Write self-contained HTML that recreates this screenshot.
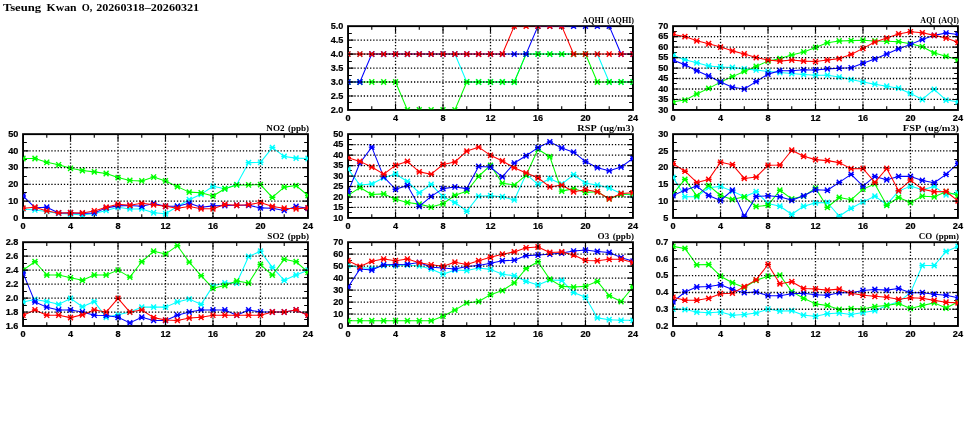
<!DOCTYPE html>
<html><head><meta charset="utf-8"><title>Tseung Kwan O</title>
<style>
html,body{margin:0;padding:0;background:#fff;}
svg{display:block;will-change:transform;}
.l{font-family:"Liberation Sans",sans-serif;font-weight:bold;font-size:8.8px;fill:#000;stroke:#000;stroke-width:0.2px;}
.t{font-family:"Liberation Serif",serif;font-weight:bold;font-size:9.0px;fill:#000;letter-spacing:0px;word-spacing:1.2px;}
.m{font-family:"Liberation Serif",serif;font-weight:bold;font-size:11.4px;fill:#000;letter-spacing:0px;word-spacing:1.5px;}
</style></head><body>
<svg width="975" height="447" viewBox="0 0 975 447">
<rect width="975" height="447" fill="#fff"/>
<defs><g id="k"><path d="M-2.4 -2.7L2.4 2.7M-2.4 2.7L2.4 -2.7M-3 0L3 0" fill="none" stroke-width="1.45" stroke-linecap="butt"/></g></defs>
<text class="m" y="10.8"><tspan x="2.9" textLength="38.3" lengthAdjust="spacingAndGlyphs">Tseung</tspan> <tspan x="46.6" textLength="29.9" lengthAdjust="spacingAndGlyphs">Kwan</tspan> <tspan x="81.8" textLength="10.6" lengthAdjust="spacingAndGlyphs">O,</tspan> <tspan x="96.2" textLength="103.0" lengthAdjust="spacingAndGlyphs">20260318–20260321</tspan></text>
<g>
<clipPath id="c1"><rect x="23.05" y="134.8" width="284.9" height="82.5"/></clipPath>
<rect x="23.05" y="134.15" width="284.9" height="83.8" fill="none" stroke="#000" stroke-width="1.9"/>
<path d="M23.05 209.5h3.8M307.95 209.5h-3.8M23.05 192.5h3.8M307.95 192.5h-3.8M23.05 176.5h3.8M307.95 176.5h-3.8M23.05 159.5h3.8M307.95 159.5h-3.8M23.05 142.5h3.8M307.95 142.5h-3.8" fill="none" stroke="#000" stroke-width="1.15"/>
<path d="M46.79 134.15v3.7M46.79 217.95v-3.7M94.27 134.15v3.7M94.27 217.95v-3.7M141.76 134.15v3.7M141.76 217.95v-3.7M189.24 134.15v3.7M189.24 217.95v-3.7M236.72 134.15v3.7M236.72 217.95v-3.7M284.21 134.15v3.7M284.21 217.95v-3.7" fill="none" stroke="#000" stroke-width="1.1"/>
<g clip-path="url(#c1)">
<polyline points="23.05,208.9 34.92,209.91 46.79,211.41 58.66,213.42 70.53,214.1 82.4,214.93 94.27,213.42 106.15,210.41 118.02,207.22 129.89,208.9 141.76,208.9 153.63,212.75 165.5,213.76 177.37,206.55 189.24,199.68 201.11,194.32 212.98,186.27 224.85,188.79 236.72,184.6 248.6,162.64 260.47,162.31 272.34,147.56 284.21,156.44 296.08,158.12 307.95,158.45" fill="none" stroke="#00ffff" stroke-width="1.05" stroke-linejoin="round"/>
<g stroke="#00ffff"><use href="#k" x="23.05" y="208.9"/><use href="#k" x="34.92" y="209.91"/><use href="#k" x="46.79" y="211.41"/><use href="#k" x="58.66" y="213.42"/><use href="#k" x="70.53" y="214.1"/><use href="#k" x="82.4" y="214.93"/><use href="#k" x="94.27" y="213.42"/><use href="#k" x="106.15" y="210.41"/><use href="#k" x="118.02" y="207.22"/><use href="#k" x="129.89" y="208.9"/><use href="#k" x="141.76" y="208.9"/><use href="#k" x="153.63" y="212.75"/><use href="#k" x="165.5" y="213.76"/><use href="#k" x="177.37" y="206.55"/><use href="#k" x="189.24" y="199.68"/><use href="#k" x="201.11" y="194.32"/><use href="#k" x="212.98" y="186.27"/><use href="#k" x="224.85" y="188.79"/><use href="#k" x="236.72" y="184.6"/><use href="#k" x="248.6" y="162.64"/><use href="#k" x="260.47" y="162.31"/><use href="#k" x="272.34" y="147.56"/><use href="#k" x="284.21" y="156.44"/><use href="#k" x="296.08" y="158.12"/><use href="#k" x="307.95" y="158.45"/></g>
<polyline points="23.05,158.45 34.92,158.45 46.79,162.31 58.66,164.82 70.53,168.34 82.4,170.52 94.27,171.86 106.15,173.54 118.02,177.56 129.89,180.41 141.76,180.91 153.63,177.06 165.5,180.91 177.37,186.61 189.24,192.14 201.11,192.81 212.98,195.99 224.85,188.79 236.72,184.93 248.6,184.93 260.47,184.6 272.34,197.34 284.21,187.11 296.08,185.6 307.95,195.49" fill="none" stroke="#00ff00" stroke-width="1.05" stroke-linejoin="round"/>
<g stroke="#00ff00"><use href="#k" x="23.05" y="158.45"/><use href="#k" x="34.92" y="158.45"/><use href="#k" x="46.79" y="162.31"/><use href="#k" x="58.66" y="164.82"/><use href="#k" x="70.53" y="168.34"/><use href="#k" x="82.4" y="170.52"/><use href="#k" x="94.27" y="171.86"/><use href="#k" x="106.15" y="173.54"/><use href="#k" x="118.02" y="177.56"/><use href="#k" x="129.89" y="180.41"/><use href="#k" x="141.76" y="180.91"/><use href="#k" x="153.63" y="177.06"/><use href="#k" x="165.5" y="180.91"/><use href="#k" x="177.37" y="186.61"/><use href="#k" x="189.24" y="192.14"/><use href="#k" x="201.11" y="192.81"/><use href="#k" x="212.98" y="195.99"/><use href="#k" x="224.85" y="188.79"/><use href="#k" x="236.72" y="184.93"/><use href="#k" x="248.6" y="184.93"/><use href="#k" x="260.47" y="184.6"/><use href="#k" x="272.34" y="197.34"/><use href="#k" x="284.21" y="187.11"/><use href="#k" x="296.08" y="185.6"/><use href="#k" x="307.95" y="195.49"/></g>
<polyline points="23.05,195.99 34.92,207.73 46.79,207.22 58.66,212.92 70.53,212.92 82.4,213.42 94.27,212.92 106.15,207.89 118.02,205.88 129.89,205.55 141.76,206.22 153.63,203.54 165.5,206.22 177.37,206.22 189.24,203.2 201.11,207.22 212.98,205.88 224.85,205.55 236.72,205.21 248.6,205.21 260.47,207.89 272.34,208.23 284.21,210.41 296.08,206.55 307.95,208.23" fill="none" stroke="#0000ff" stroke-width="1.05" stroke-linejoin="round"/>
<g stroke="#0000ff"><use href="#k" x="23.05" y="195.99"/><use href="#k" x="34.92" y="207.73"/><use href="#k" x="46.79" y="207.22"/><use href="#k" x="58.66" y="212.92"/><use href="#k" x="70.53" y="212.92"/><use href="#k" x="82.4" y="213.42"/><use href="#k" x="94.27" y="212.92"/><use href="#k" x="106.15" y="207.89"/><use href="#k" x="118.02" y="205.88"/><use href="#k" x="129.89" y="205.55"/><use href="#k" x="141.76" y="206.22"/><use href="#k" x="153.63" y="203.54"/><use href="#k" x="165.5" y="206.22"/><use href="#k" x="177.37" y="206.22"/><use href="#k" x="189.24" y="203.2"/><use href="#k" x="201.11" y="207.22"/><use href="#k" x="212.98" y="205.88"/><use href="#k" x="224.85" y="205.55"/><use href="#k" x="236.72" y="205.21"/><use href="#k" x="248.6" y="205.21"/><use href="#k" x="260.47" y="207.89"/><use href="#k" x="272.34" y="208.23"/><use href="#k" x="284.21" y="210.41"/><use href="#k" x="296.08" y="206.55"/><use href="#k" x="307.95" y="208.23"/></g>
<polyline points="23.05,208.23 34.92,207.22 46.79,210.91 58.66,212.92 70.53,212.75 82.4,212.92 94.27,210.91 106.15,207.22 118.02,204.21 129.89,205.21 141.76,203.2 153.63,204.71 165.5,206.22 177.37,208.23 189.24,206.55 201.11,208.73 212.98,208.73 224.85,204.54 236.72,205.21 248.6,204.71 260.47,202.53 272.34,206.55 284.21,208.23 296.08,208.73 307.95,207.89" fill="none" stroke="#ff0000" stroke-width="1.05" stroke-linejoin="round"/>
<g stroke="#ff0000"><use href="#k" x="23.05" y="208.23"/><use href="#k" x="34.92" y="207.22"/><use href="#k" x="46.79" y="210.91"/><use href="#k" x="58.66" y="212.92"/><use href="#k" x="70.53" y="212.75"/><use href="#k" x="82.4" y="212.92"/><use href="#k" x="94.27" y="210.91"/><use href="#k" x="106.15" y="207.22"/><use href="#k" x="118.02" y="204.21"/><use href="#k" x="129.89" y="205.21"/><use href="#k" x="141.76" y="203.2"/><use href="#k" x="153.63" y="204.71"/><use href="#k" x="165.5" y="206.22"/><use href="#k" x="177.37" y="208.23"/><use href="#k" x="189.24" y="206.55"/><use href="#k" x="201.11" y="208.73"/><use href="#k" x="212.98" y="208.73"/><use href="#k" x="224.85" y="204.54"/><use href="#k" x="236.72" y="205.21"/><use href="#k" x="248.6" y="204.71"/><use href="#k" x="260.47" y="202.53"/><use href="#k" x="272.34" y="206.55"/><use href="#k" x="284.21" y="208.23"/><use href="#k" x="296.08" y="208.73"/><use href="#k" x="307.95" y="207.89"/></g>
</g>
<path d="M23.05 201.19H307.95M23.05 184.43H307.95M23.05 167.67H307.95M23.05 150.91H307.95M70.53 134.15V217.95M118.02 134.15V217.95M165.5 134.15V217.95M212.98 134.15V217.95M260.47 134.15V217.95" fill="none" stroke="#000" stroke-width="1.3" stroke-dasharray="1.3 1.84"/>
<path d="M23.05 201.19h5.5M307.95 201.19h-5.5M23.05 184.43h5.5M307.95 184.43h-5.5M23.05 167.67h5.5M307.95 167.67h-5.5M23.05 150.91h5.5M307.95 150.91h-5.5" fill="none" stroke="#000" stroke-width="1.15"/>
<path d="M70.53 134.15v6.5M70.53 217.95v-6.5M118.02 134.15v6.5M118.02 217.95v-6.5M165.5 134.15v6.5M165.5 217.95v-6.5M212.98 134.15v6.5M212.98 217.95v-6.5M260.47 134.15v6.5M260.47 217.95v-6.5" fill="none" stroke="#000" stroke-width="1.1"/>
<text class="l" text-anchor="end" transform="translate(18.35 220.7) scale(1.04 1)">0</text><text class="l" text-anchor="end" transform="translate(18.35 203.94) scale(1.04 1)">10</text><text class="l" text-anchor="end" transform="translate(18.35 187.18) scale(1.04 1)">20</text><text class="l" text-anchor="end" transform="translate(18.35 170.42) scale(1.04 1)">30</text><text class="l" text-anchor="end" transform="translate(18.35 153.66) scale(1.04 1)">40</text><text class="l" text-anchor="end" transform="translate(18.35 136.9) scale(1.04 1)">50</text>
<text class="l" text-anchor="middle" transform="translate(23.05 229.3) scale(1.04 1)">0</text><text class="l" text-anchor="middle" transform="translate(70.53 229.3) scale(1.04 1)">4</text><text class="l" text-anchor="middle" transform="translate(118.02 229.3) scale(1.04 1)">8</text><text class="l" text-anchor="middle" transform="translate(165.5 229.3) scale(1.04 1)">12</text><text class="l" text-anchor="middle" transform="translate(212.98 229.3) scale(1.04 1)">16</text><text class="l" text-anchor="middle" transform="translate(260.47 229.3) scale(1.04 1)">20</text><text class="l" text-anchor="middle" transform="translate(307.95 229.3) scale(1.04 1)">24</text>
<text class="t" x="266.35" y="130.65" textLength="42.7" lengthAdjust="spacingAndGlyphs">NO2 (ppb)</text>
</g>
<g>
<clipPath id="c2"><rect x="23.05" y="242.85" width="284.9" height="82.5"/></clipPath>
<rect x="23.05" y="242.2" width="284.9" height="83.8" fill="none" stroke="#000" stroke-width="1.9"/>
<path d="M23.05 319.5h3.8M307.95 319.5h-3.8M23.05 305.5h3.8M307.95 305.5h-3.8M23.05 291.5h3.8M307.95 291.5h-3.8M23.05 277.5h3.8M307.95 277.5h-3.8M23.05 263.5h3.8M307.95 263.5h-3.8M23.05 249.5h3.8M307.95 249.5h-3.8" fill="none" stroke="#000" stroke-width="1.15"/>
<path d="M46.79 242.2v3.7M46.79 326v-3.7M94.27 242.2v3.7M94.27 326v-3.7M141.76 242.2v3.7M141.76 326v-3.7M189.24 242.2v3.7M189.24 326v-3.7M236.72 242.2v3.7M236.72 326v-3.7M284.21 242.2v3.7M284.21 326v-3.7" fill="none" stroke="#000" stroke-width="1.1"/>
<g clip-path="url(#c2)">
<polyline points="23.05,301.91 34.92,299.46 46.79,301.56 58.66,304.35 70.53,298.42 82.4,306.8 94.27,301.56 106.15,317.27 118.02,314.83 129.89,312.03 141.76,307.14 153.63,307.14 165.5,307.14 177.37,301.91 189.24,299.11 201.11,304.35 212.98,285.85 224.85,283.05 236.72,283.05 248.6,256.52 260.47,251.28 272.34,267.34 284.21,280.26 296.08,275.02 307.95,270.13" fill="none" stroke="#00ffff" stroke-width="1.05" stroke-linejoin="round"/>
<g stroke="#00ffff"><use href="#k" x="23.05" y="301.91"/><use href="#k" x="34.92" y="299.46"/><use href="#k" x="46.79" y="301.56"/><use href="#k" x="58.66" y="304.35"/><use href="#k" x="70.53" y="298.42"/><use href="#k" x="82.4" y="306.8"/><use href="#k" x="94.27" y="301.56"/><use href="#k" x="106.15" y="317.27"/><use href="#k" x="118.02" y="314.83"/><use href="#k" x="129.89" y="312.03"/><use href="#k" x="141.76" y="307.14"/><use href="#k" x="153.63" y="307.14"/><use href="#k" x="165.5" y="307.14"/><use href="#k" x="177.37" y="301.91"/><use href="#k" x="189.24" y="299.11"/><use href="#k" x="201.11" y="304.35"/><use href="#k" x="212.98" y="285.85"/><use href="#k" x="224.85" y="283.05"/><use href="#k" x="236.72" y="283.05"/><use href="#k" x="248.6" y="256.52"/><use href="#k" x="260.47" y="251.28"/><use href="#k" x="272.34" y="267.34"/><use href="#k" x="284.21" y="280.26"/><use href="#k" x="296.08" y="275.02"/><use href="#k" x="307.95" y="270.13"/></g>
<polyline points="23.05,270.13 34.92,261.75 46.79,275.02 58.66,275.02 70.53,277.81 82.4,280.26 94.27,275.02 106.15,275.02 118.02,270.13 129.89,277.12 141.76,261.75 153.63,251.28 165.5,254.07 177.37,245.69 189.24,262.1 201.11,275.72 212.98,288.29 224.85,285.5 236.72,280.96 248.6,283.05 260.47,264.55 272.34,275.02 284.21,259.31 296.08,261.75 307.95,272.23" fill="none" stroke="#00ff00" stroke-width="1.05" stroke-linejoin="round"/>
<g stroke="#00ff00"><use href="#k" x="23.05" y="270.13"/><use href="#k" x="34.92" y="261.75"/><use href="#k" x="46.79" y="275.02"/><use href="#k" x="58.66" y="275.02"/><use href="#k" x="70.53" y="277.81"/><use href="#k" x="82.4" y="280.26"/><use href="#k" x="94.27" y="275.02"/><use href="#k" x="106.15" y="275.02"/><use href="#k" x="118.02" y="270.13"/><use href="#k" x="129.89" y="277.12"/><use href="#k" x="141.76" y="261.75"/><use href="#k" x="153.63" y="251.28"/><use href="#k" x="165.5" y="254.07"/><use href="#k" x="177.37" y="245.69"/><use href="#k" x="189.24" y="262.1"/><use href="#k" x="201.11" y="275.72"/><use href="#k" x="212.98" y="288.29"/><use href="#k" x="224.85" y="285.5"/><use href="#k" x="236.72" y="280.96"/><use href="#k" x="248.6" y="283.05"/><use href="#k" x="260.47" y="264.55"/><use href="#k" x="272.34" y="275.02"/><use href="#k" x="284.21" y="259.31"/><use href="#k" x="296.08" y="261.75"/><use href="#k" x="307.95" y="272.23"/></g>
<polyline points="23.05,272.93 34.92,301.91 46.79,307.14 58.66,309.94 70.53,309.94 82.4,312.03 94.27,315.18 106.15,315.52 118.02,317.27 129.89,322.86 141.76,317.27 153.63,320.41 165.5,320.41 177.37,315.18 189.24,312.03 201.11,309.94 212.98,309.94 224.85,309.94 236.72,315.18 248.6,309.94 260.47,312.03 272.34,312.03 284.21,312.03 296.08,309.94 307.95,315.18" fill="none" stroke="#0000ff" stroke-width="1.05" stroke-linejoin="round"/>
<g stroke="#0000ff"><use href="#k" x="23.05" y="272.93"/><use href="#k" x="34.92" y="301.91"/><use href="#k" x="46.79" y="307.14"/><use href="#k" x="58.66" y="309.94"/><use href="#k" x="70.53" y="309.94"/><use href="#k" x="82.4" y="312.03"/><use href="#k" x="94.27" y="315.18"/><use href="#k" x="106.15" y="315.52"/><use href="#k" x="118.02" y="317.27"/><use href="#k" x="129.89" y="322.86"/><use href="#k" x="141.76" y="317.27"/><use href="#k" x="153.63" y="320.41"/><use href="#k" x="165.5" y="320.41"/><use href="#k" x="177.37" y="315.18"/><use href="#k" x="189.24" y="312.03"/><use href="#k" x="201.11" y="309.94"/><use href="#k" x="212.98" y="309.94"/><use href="#k" x="224.85" y="309.94"/><use href="#k" x="236.72" y="315.18"/><use href="#k" x="248.6" y="309.94"/><use href="#k" x="260.47" y="312.03"/><use href="#k" x="272.34" y="312.03"/><use href="#k" x="284.21" y="312.03"/><use href="#k" x="296.08" y="309.94"/><use href="#k" x="307.95" y="315.18"/></g>
<polyline points="23.05,315.18 34.92,309.94 46.79,315.18 58.66,315.18 70.53,317.62 82.4,314.83 94.27,309.94 106.15,312.03 118.02,298.42 129.89,312.03 141.76,309.94 153.63,317.62 165.5,320.06 177.37,320.41 189.24,317.97 201.11,317.27 212.98,315.18 224.85,315.18 236.72,315.18 248.6,315.18 260.47,315.18 272.34,312.03 284.21,312.03 296.08,309.94 307.95,315.18" fill="none" stroke="#ff0000" stroke-width="1.05" stroke-linejoin="round"/>
<g stroke="#ff0000"><use href="#k" x="23.05" y="315.18"/><use href="#k" x="34.92" y="309.94"/><use href="#k" x="46.79" y="315.18"/><use href="#k" x="58.66" y="315.18"/><use href="#k" x="70.53" y="317.62"/><use href="#k" x="82.4" y="314.83"/><use href="#k" x="94.27" y="309.94"/><use href="#k" x="106.15" y="312.03"/><use href="#k" x="118.02" y="298.42"/><use href="#k" x="129.89" y="312.03"/><use href="#k" x="141.76" y="309.94"/><use href="#k" x="153.63" y="317.62"/><use href="#k" x="165.5" y="320.06"/><use href="#k" x="177.37" y="320.41"/><use href="#k" x="189.24" y="317.97"/><use href="#k" x="201.11" y="317.27"/><use href="#k" x="212.98" y="315.18"/><use href="#k" x="224.85" y="315.18"/><use href="#k" x="236.72" y="315.18"/><use href="#k" x="248.6" y="315.18"/><use href="#k" x="260.47" y="315.18"/><use href="#k" x="272.34" y="312.03"/><use href="#k" x="284.21" y="312.03"/><use href="#k" x="296.08" y="309.94"/><use href="#k" x="307.95" y="315.18"/></g>
</g>
<path d="M23.05 312.03H307.95M23.05 298.07H307.95M23.05 284.1H307.95M23.05 270.13H307.95M23.05 256.17H307.95M70.53 242.2V326M118.02 242.2V326M165.5 242.2V326M212.98 242.2V326M260.47 242.2V326" fill="none" stroke="#000" stroke-width="1.3" stroke-dasharray="1.3 1.84"/>
<path d="M23.05 312.03h5.5M307.95 312.03h-5.5M23.05 298.07h5.5M307.95 298.07h-5.5M23.05 284.1h5.5M307.95 284.1h-5.5M23.05 270.13h5.5M307.95 270.13h-5.5M23.05 256.17h5.5M307.95 256.17h-5.5" fill="none" stroke="#000" stroke-width="1.15"/>
<path d="M70.53 242.2v6.5M70.53 326v-6.5M118.02 242.2v6.5M118.02 326v-6.5M165.5 242.2v6.5M165.5 326v-6.5M212.98 242.2v6.5M212.98 326v-6.5M260.47 242.2v6.5M260.47 326v-6.5" fill="none" stroke="#000" stroke-width="1.1"/>
<text class="l" text-anchor="end" transform="translate(18.35 328.75) scale(1.04 1)">1.6</text><text class="l" text-anchor="end" transform="translate(18.35 314.78) scale(1.04 1)">1.8</text><text class="l" text-anchor="end" transform="translate(18.35 300.82) scale(1.04 1)">2.0</text><text class="l" text-anchor="end" transform="translate(18.35 286.85) scale(1.04 1)">2.2</text><text class="l" text-anchor="end" transform="translate(18.35 272.88) scale(1.04 1)">2.4</text><text class="l" text-anchor="end" transform="translate(18.35 258.92) scale(1.04 1)">2.6</text><text class="l" text-anchor="end" transform="translate(18.35 244.95) scale(1.04 1)">2.8</text>
<text class="l" text-anchor="middle" transform="translate(23.05 337.35) scale(1.04 1)">0</text><text class="l" text-anchor="middle" transform="translate(70.53 337.35) scale(1.04 1)">4</text><text class="l" text-anchor="middle" transform="translate(118.02 337.35) scale(1.04 1)">8</text><text class="l" text-anchor="middle" transform="translate(165.5 337.35) scale(1.04 1)">12</text><text class="l" text-anchor="middle" transform="translate(212.98 337.35) scale(1.04 1)">16</text><text class="l" text-anchor="middle" transform="translate(260.47 337.35) scale(1.04 1)">20</text><text class="l" text-anchor="middle" transform="translate(307.95 337.35) scale(1.04 1)">24</text>
<text class="t" x="267.35" y="238.7" textLength="41.7" lengthAdjust="spacingAndGlyphs">SO2 (ppb)</text>
</g>
<g>
<clipPath id="c3"><rect x="348.05" y="26.8" width="284.9" height="82.5"/></clipPath>
<rect x="348.05" y="26.15" width="284.9" height="83.8" fill="none" stroke="#000" stroke-width="1.9"/>
<path d="M348.05 102.5h3.8M632.95 102.5h-3.8M348.05 88.5h3.8M632.95 88.5h-3.8M348.05 75.5h3.8M632.95 75.5h-3.8M348.05 61.5h3.8M632.95 61.5h-3.8M348.05 47.5h3.8M632.95 47.5h-3.8M348.05 33.5h3.8M632.95 33.5h-3.8" fill="none" stroke="#000" stroke-width="1.15"/>
<path d="M371.79 26.15v3.7M371.79 109.95v-3.7M419.27 26.15v3.7M419.27 109.95v-3.7M466.76 26.15v3.7M466.76 109.95v-3.7M514.24 26.15v3.7M514.24 109.95v-3.7M561.73 26.15v3.7M561.73 109.95v-3.7M609.21 26.15v3.7M609.21 109.95v-3.7" fill="none" stroke="#000" stroke-width="1.1"/>
<g clip-path="url(#c3)">
<polyline points="348.05,54.08 359.92,54.08 371.79,54.08 383.66,54.08 395.53,54.08 407.4,54.08 419.27,54.08 431.15,54.08 443.02,54.08 454.89,54.08 466.76,82.02 478.63,82.02 490.5,82.02 502.37,82.02 514.24,82.02 526.11,54.08 537.98,54.08 549.85,54.08 561.73,54.08 573.6,54.08 585.47,54.08 597.34,54.08 609.21,82.02 621.08,82.02 632.95,82.02" fill="none" stroke="#00ffff" stroke-width="1.05" stroke-linejoin="round"/>
<g stroke="#00ffff"><use href="#k" x="348.05" y="54.08"/><use href="#k" x="359.92" y="54.08"/><use href="#k" x="371.79" y="54.08"/><use href="#k" x="383.66" y="54.08"/><use href="#k" x="395.53" y="54.08"/><use href="#k" x="407.4" y="54.08"/><use href="#k" x="419.27" y="54.08"/><use href="#k" x="431.15" y="54.08"/><use href="#k" x="443.02" y="54.08"/><use href="#k" x="454.89" y="54.08"/><use href="#k" x="466.76" y="82.02"/><use href="#k" x="478.63" y="82.02"/><use href="#k" x="490.5" y="82.02"/><use href="#k" x="502.37" y="82.02"/><use href="#k" x="514.24" y="82.02"/><use href="#k" x="526.11" y="54.08"/><use href="#k" x="537.98" y="54.08"/><use href="#k" x="549.85" y="54.08"/><use href="#k" x="561.73" y="54.08"/><use href="#k" x="573.6" y="54.08"/><use href="#k" x="585.47" y="54.08"/><use href="#k" x="597.34" y="54.08"/><use href="#k" x="609.21" y="82.02"/><use href="#k" x="621.08" y="82.02"/><use href="#k" x="632.95" y="82.02"/></g>
<polyline points="348.05,82.02 359.92,82.02 371.79,82.02 383.66,82.02 395.53,82.02 407.4,109.95 419.27,109.95 431.15,109.95 443.02,109.95 454.89,109.95 466.76,82.02 478.63,82.02 490.5,82.02 502.37,82.02 514.24,82.02 526.11,54.08 537.98,54.08 549.85,54.08 561.73,54.08 573.6,54.08 585.47,54.08 597.34,82.02 609.21,82.02 621.08,82.02 632.95,82.02" fill="none" stroke="#00ff00" stroke-width="1.05" stroke-linejoin="round"/>
<g stroke="#00ff00"><use href="#k" x="348.05" y="82.02"/><use href="#k" x="359.92" y="82.02"/><use href="#k" x="371.79" y="82.02"/><use href="#k" x="383.66" y="82.02"/><use href="#k" x="395.53" y="82.02"/><use href="#k" x="407.4" y="109.95"/><use href="#k" x="419.27" y="109.95"/><use href="#k" x="431.15" y="109.95"/><use href="#k" x="443.02" y="109.95"/><use href="#k" x="454.89" y="109.95"/><use href="#k" x="466.76" y="82.02"/><use href="#k" x="478.63" y="82.02"/><use href="#k" x="490.5" y="82.02"/><use href="#k" x="502.37" y="82.02"/><use href="#k" x="514.24" y="82.02"/><use href="#k" x="526.11" y="54.08"/><use href="#k" x="537.98" y="54.08"/><use href="#k" x="549.85" y="54.08"/><use href="#k" x="561.73" y="54.08"/><use href="#k" x="573.6" y="54.08"/><use href="#k" x="585.47" y="54.08"/><use href="#k" x="597.34" y="82.02"/><use href="#k" x="609.21" y="82.02"/><use href="#k" x="621.08" y="82.02"/><use href="#k" x="632.95" y="82.02"/></g>
<polyline points="348.05,82.02 359.92,82.02 371.79,54.08 383.66,54.08 395.53,54.08 407.4,54.08 419.27,54.08 431.15,54.08 443.02,54.08 454.89,54.08 466.76,54.08 478.63,54.08 490.5,54.08 502.37,54.08 514.24,54.08 526.11,54.08 537.98,26.15 549.85,26.15 561.73,26.15 573.6,26.15 585.47,26.15 597.34,26.15 609.21,26.15 621.08,54.08 632.95,54.08" fill="none" stroke="#0000ff" stroke-width="1.05" stroke-linejoin="round"/>
<g stroke="#0000ff"><use href="#k" x="348.05" y="82.02"/><use href="#k" x="359.92" y="82.02"/><use href="#k" x="371.79" y="54.08"/><use href="#k" x="383.66" y="54.08"/><use href="#k" x="395.53" y="54.08"/><use href="#k" x="407.4" y="54.08"/><use href="#k" x="419.27" y="54.08"/><use href="#k" x="431.15" y="54.08"/><use href="#k" x="443.02" y="54.08"/><use href="#k" x="454.89" y="54.08"/><use href="#k" x="466.76" y="54.08"/><use href="#k" x="478.63" y="54.08"/><use href="#k" x="490.5" y="54.08"/><use href="#k" x="502.37" y="54.08"/><use href="#k" x="514.24" y="54.08"/><use href="#k" x="526.11" y="54.08"/><use href="#k" x="537.98" y="26.15"/><use href="#k" x="549.85" y="26.15"/><use href="#k" x="561.73" y="26.15"/><use href="#k" x="573.6" y="26.15"/><use href="#k" x="585.47" y="26.15"/><use href="#k" x="597.34" y="26.15"/><use href="#k" x="609.21" y="26.15"/><use href="#k" x="621.08" y="54.08"/><use href="#k" x="632.95" y="54.08"/></g>
<polyline points="348.05,54.08 359.92,54.08 371.79,54.08 383.66,54.08 395.53,54.08 407.4,54.08 419.27,54.08 431.15,54.08 443.02,54.08 454.89,54.08 466.76,54.08 478.63,54.08 490.5,54.08 502.37,54.08 514.24,26.15 526.11,26.15 537.98,26.15 549.85,26.15 561.73,26.15 573.6,54.08 585.47,54.08 597.34,54.08 609.21,54.08 621.08,54.08 632.95,54.08" fill="none" stroke="#ff0000" stroke-width="1.05" stroke-linejoin="round"/>
<g stroke="#ff0000"><use href="#k" x="348.05" y="54.08"/><use href="#k" x="359.92" y="54.08"/><use href="#k" x="371.79" y="54.08"/><use href="#k" x="383.66" y="54.08"/><use href="#k" x="395.53" y="54.08"/><use href="#k" x="407.4" y="54.08"/><use href="#k" x="419.27" y="54.08"/><use href="#k" x="431.15" y="54.08"/><use href="#k" x="443.02" y="54.08"/><use href="#k" x="454.89" y="54.08"/><use href="#k" x="466.76" y="54.08"/><use href="#k" x="478.63" y="54.08"/><use href="#k" x="490.5" y="54.08"/><use href="#k" x="502.37" y="54.08"/><use href="#k" x="514.24" y="26.15"/><use href="#k" x="526.11" y="26.15"/><use href="#k" x="537.98" y="26.15"/><use href="#k" x="549.85" y="26.15"/><use href="#k" x="561.73" y="26.15"/><use href="#k" x="573.6" y="54.08"/><use href="#k" x="585.47" y="54.08"/><use href="#k" x="597.34" y="54.08"/><use href="#k" x="609.21" y="54.08"/><use href="#k" x="621.08" y="54.08"/><use href="#k" x="632.95" y="54.08"/></g>
</g>
<path d="M348.05 95.98H632.95M348.05 82.02H632.95M348.05 68.05H632.95M348.05 54.08H632.95M348.05 40.12H632.95M395.53 26.15V109.95M443.02 26.15V109.95M490.5 26.15V109.95M537.98 26.15V109.95M585.47 26.15V109.95" fill="none" stroke="#000" stroke-width="1.3" stroke-dasharray="1.3 1.84"/>
<path d="M348.05 95.98h5.5M632.95 95.98h-5.5M348.05 82.02h5.5M632.95 82.02h-5.5M348.05 68.05h5.5M632.95 68.05h-5.5M348.05 54.08h5.5M632.95 54.08h-5.5M348.05 40.12h5.5M632.95 40.12h-5.5" fill="none" stroke="#000" stroke-width="1.15"/>
<path d="M395.53 26.15v6.5M395.53 109.95v-6.5M443.02 26.15v6.5M443.02 109.95v-6.5M490.5 26.15v6.5M490.5 109.95v-6.5M537.98 26.15v6.5M537.98 109.95v-6.5M585.47 26.15v6.5M585.47 109.95v-6.5" fill="none" stroke="#000" stroke-width="1.1"/>
<text class="l" text-anchor="end" transform="translate(343.35 112.7) scale(1.04 1)">2.0</text><text class="l" text-anchor="end" transform="translate(343.35 98.73) scale(1.04 1)">2.5</text><text class="l" text-anchor="end" transform="translate(343.35 84.77) scale(1.04 1)">3.0</text><text class="l" text-anchor="end" transform="translate(343.35 70.8) scale(1.04 1)">3.5</text><text class="l" text-anchor="end" transform="translate(343.35 56.83) scale(1.04 1)">4.0</text><text class="l" text-anchor="end" transform="translate(343.35 42.87) scale(1.04 1)">4.5</text><text class="l" text-anchor="end" transform="translate(343.35 28.9) scale(1.04 1)">5.0</text>
<text class="l" text-anchor="middle" transform="translate(348.05 121.3) scale(1.04 1)">0</text><text class="l" text-anchor="middle" transform="translate(395.53 121.3) scale(1.04 1)">4</text><text class="l" text-anchor="middle" transform="translate(443.02 121.3) scale(1.04 1)">8</text><text class="l" text-anchor="middle" transform="translate(490.5 121.3) scale(1.04 1)">12</text><text class="l" text-anchor="middle" transform="translate(537.98 121.3) scale(1.04 1)">16</text><text class="l" text-anchor="middle" transform="translate(585.47 121.3) scale(1.04 1)">20</text><text class="l" text-anchor="middle" transform="translate(632.95 121.3) scale(1.04 1)">24</text>
<text class="t" x="582.35" y="22.65" textLength="51.7" lengthAdjust="spacingAndGlyphs">AQHI (AQHI)</text>
</g>
<g>
<clipPath id="c4"><rect x="673.05" y="26.8" width="284.9" height="82.5"/></clipPath>
<rect x="673.05" y="26.15" width="284.9" height="83.8" fill="none" stroke="#000" stroke-width="1.9"/>
<path d="M673.05 104.5h3.8M957.95 104.5h-3.8M673.05 94.5h3.8M957.95 94.5h-3.8M673.05 83.5h3.8M957.95 83.5h-3.8M673.05 73.5h3.8M957.95 73.5h-3.8M673.05 62.5h3.8M957.95 62.5h-3.8M673.05 52.5h3.8M957.95 52.5h-3.8M673.05 41.5h3.8M957.95 41.5h-3.8M673.05 31.5h3.8M957.95 31.5h-3.8" fill="none" stroke="#000" stroke-width="1.15"/>
<path d="M696.79 26.15v3.7M696.79 109.95v-3.7M744.27 26.15v3.7M744.27 109.95v-3.7M791.76 26.15v3.7M791.76 109.95v-3.7M839.24 26.15v3.7M839.24 109.95v-3.7M886.72 26.15v3.7M886.72 109.95v-3.7M934.21 26.15v3.7M934.21 109.95v-3.7" fill="none" stroke="#000" stroke-width="1.1"/>
<g clip-path="url(#c4)">
<polyline points="673.05,55.48 684.92,59.67 696.79,62.81 708.66,65.95 720.53,67 732.4,67.42 744.27,68.89 756.15,69.94 768.02,71.4 779.89,72.45 791.76,73.5 803.63,74.54 815.5,75.17 827.37,75.17 839.24,77.06 851.11,79.57 862.98,82.09 874.85,84.18 886.72,86.28 898.6,88.16 910.47,93.4 922.34,99.47 934.21,89.42 946.08,100.1 957.95,101.78" fill="none" stroke="#00ffff" stroke-width="1.05" stroke-linejoin="round"/>
<g stroke="#00ffff"><use href="#k" x="673.05" y="55.48"/><use href="#k" x="684.92" y="59.67"/><use href="#k" x="696.79" y="62.81"/><use href="#k" x="708.66" y="65.95"/><use href="#k" x="720.53" y="67"/><use href="#k" x="732.4" y="67.42"/><use href="#k" x="744.27" y="68.89"/><use href="#k" x="756.15" y="69.94"/><use href="#k" x="768.02" y="71.4"/><use href="#k" x="779.89" y="72.45"/><use href="#k" x="791.76" y="73.5"/><use href="#k" x="803.63" y="74.54"/><use href="#k" x="815.5" y="75.17"/><use href="#k" x="827.37" y="75.17"/><use href="#k" x="839.24" y="77.06"/><use href="#k" x="851.11" y="79.57"/><use href="#k" x="862.98" y="82.09"/><use href="#k" x="874.85" y="84.18"/><use href="#k" x="886.72" y="86.28"/><use href="#k" x="898.6" y="88.16"/><use href="#k" x="910.47" y="93.4"/><use href="#k" x="922.34" y="99.47"/><use href="#k" x="934.21" y="89.42"/><use href="#k" x="946.08" y="100.1"/><use href="#k" x="957.95" y="101.78"/></g>
<polyline points="673.05,101.78 684.92,100.1 696.79,94.03 708.66,88.37 720.53,82.09 732.4,76.64 744.27,71.4 756.15,66.37 768.02,61.14 779.89,58.62 791.76,55.06 803.63,51.92 815.5,47.41 827.37,42.7 839.24,41.02 851.11,40.61 862.98,40.19 874.85,41.02 886.72,41.23 898.6,41.65 910.47,43.75 922.34,46.68 934.21,52.97 946.08,56.32 957.95,59.67" fill="none" stroke="#00ff00" stroke-width="1.05" stroke-linejoin="round"/>
<g stroke="#00ff00"><use href="#k" x="673.05" y="101.78"/><use href="#k" x="684.92" y="100.1"/><use href="#k" x="696.79" y="94.03"/><use href="#k" x="708.66" y="88.37"/><use href="#k" x="720.53" y="82.09"/><use href="#k" x="732.4" y="76.64"/><use href="#k" x="744.27" y="71.4"/><use href="#k" x="756.15" y="66.37"/><use href="#k" x="768.02" y="61.14"/><use href="#k" x="779.89" y="58.62"/><use href="#k" x="791.76" y="55.06"/><use href="#k" x="803.63" y="51.92"/><use href="#k" x="815.5" y="47.41"/><use href="#k" x="827.37" y="42.7"/><use href="#k" x="839.24" y="41.02"/><use href="#k" x="851.11" y="40.61"/><use href="#k" x="862.98" y="40.19"/><use href="#k" x="874.85" y="41.02"/><use href="#k" x="886.72" y="41.23"/><use href="#k" x="898.6" y="41.65"/><use href="#k" x="910.47" y="43.75"/><use href="#k" x="922.34" y="46.68"/><use href="#k" x="934.21" y="52.97"/><use href="#k" x="946.08" y="56.32"/><use href="#k" x="957.95" y="59.67"/></g>
<polyline points="673.05,60.09 684.92,64.7 696.79,70.77 708.66,76.01 720.53,82.09 732.4,87.32 744.27,89 756.15,81.67 768.02,74.13 779.89,70.77 791.76,70.77 803.63,69.73 815.5,69.94 827.37,68.89 839.24,68.26 851.11,67.84 862.98,63.23 874.85,59.04 886.72,54.01 898.6,48.78 910.47,44.38 922.34,39.56 934.21,35.37 946.08,33.06 957.95,34.53" fill="none" stroke="#0000ff" stroke-width="1.05" stroke-linejoin="round"/>
<g stroke="#0000ff"><use href="#k" x="673.05" y="60.09"/><use href="#k" x="684.92" y="64.7"/><use href="#k" x="696.79" y="70.77"/><use href="#k" x="708.66" y="76.01"/><use href="#k" x="720.53" y="82.09"/><use href="#k" x="732.4" y="87.32"/><use href="#k" x="744.27" y="89"/><use href="#k" x="756.15" y="81.67"/><use href="#k" x="768.02" y="74.13"/><use href="#k" x="779.89" y="70.77"/><use href="#k" x="791.76" y="70.77"/><use href="#k" x="803.63" y="69.73"/><use href="#k" x="815.5" y="69.94"/><use href="#k" x="827.37" y="68.89"/><use href="#k" x="839.24" y="68.26"/><use href="#k" x="851.11" y="67.84"/><use href="#k" x="862.98" y="63.23"/><use href="#k" x="874.85" y="59.04"/><use href="#k" x="886.72" y="54.01"/><use href="#k" x="898.6" y="48.78"/><use href="#k" x="910.47" y="44.38"/><use href="#k" x="922.34" y="39.56"/><use href="#k" x="934.21" y="35.37"/><use href="#k" x="946.08" y="33.06"/><use href="#k" x="957.95" y="34.53"/></g>
<polyline points="673.05,34.53 684.92,36.62 696.79,40.81 708.66,43.75 720.53,47.1 732.4,50.87 744.27,54.01 756.15,57.57 768.02,60.09 779.89,61.14 791.76,60.09 803.63,61.14 815.5,61.56 827.37,60.09 839.24,58.62 851.11,54.43 862.98,48.36 874.85,42.07 886.72,38.09 898.6,33.9 910.47,31.81 922.34,32.85 934.21,35.37 946.08,38.09 957.95,42.28" fill="none" stroke="#ff0000" stroke-width="1.05" stroke-linejoin="round"/>
<g stroke="#ff0000"><use href="#k" x="673.05" y="34.53"/><use href="#k" x="684.92" y="36.62"/><use href="#k" x="696.79" y="40.81"/><use href="#k" x="708.66" y="43.75"/><use href="#k" x="720.53" y="47.1"/><use href="#k" x="732.4" y="50.87"/><use href="#k" x="744.27" y="54.01"/><use href="#k" x="756.15" y="57.57"/><use href="#k" x="768.02" y="60.09"/><use href="#k" x="779.89" y="61.14"/><use href="#k" x="791.76" y="60.09"/><use href="#k" x="803.63" y="61.14"/><use href="#k" x="815.5" y="61.56"/><use href="#k" x="827.37" y="60.09"/><use href="#k" x="839.24" y="58.62"/><use href="#k" x="851.11" y="54.43"/><use href="#k" x="862.98" y="48.36"/><use href="#k" x="874.85" y="42.07"/><use href="#k" x="886.72" y="38.09"/><use href="#k" x="898.6" y="33.9"/><use href="#k" x="910.47" y="31.81"/><use href="#k" x="922.34" y="32.85"/><use href="#k" x="934.21" y="35.37"/><use href="#k" x="946.08" y="38.09"/><use href="#k" x="957.95" y="42.28"/></g>
</g>
<path d="M673.05 99.47H957.95M673.05 89H957.95M673.05 78.52H957.95M673.05 68.05H957.95M673.05 57.57H957.95M673.05 47.1H957.95M673.05 36.62H957.95M720.53 26.15V109.95M768.02 26.15V109.95M815.5 26.15V109.95M862.98 26.15V109.95M910.47 26.15V109.95" fill="none" stroke="#000" stroke-width="1.3" stroke-dasharray="1.3 1.84"/>
<path d="M673.05 99.47h5.5M957.95 99.47h-5.5M673.05 89h5.5M957.95 89h-5.5M673.05 78.52h5.5M957.95 78.52h-5.5M673.05 68.05h5.5M957.95 68.05h-5.5M673.05 57.57h5.5M957.95 57.57h-5.5M673.05 47.1h5.5M957.95 47.1h-5.5M673.05 36.62h5.5M957.95 36.62h-5.5" fill="none" stroke="#000" stroke-width="1.15"/>
<path d="M720.53 26.15v6.5M720.53 109.95v-6.5M768.02 26.15v6.5M768.02 109.95v-6.5M815.5 26.15v6.5M815.5 109.95v-6.5M862.98 26.15v6.5M862.98 109.95v-6.5M910.47 26.15v6.5M910.47 109.95v-6.5" fill="none" stroke="#000" stroke-width="1.1"/>
<text class="l" text-anchor="end" transform="translate(668.35 112.7) scale(1.04 1)">30</text><text class="l" text-anchor="end" transform="translate(668.35 102.22) scale(1.04 1)">35</text><text class="l" text-anchor="end" transform="translate(668.35 91.75) scale(1.04 1)">40</text><text class="l" text-anchor="end" transform="translate(668.35 81.27) scale(1.04 1)">45</text><text class="l" text-anchor="end" transform="translate(668.35 70.8) scale(1.04 1)">50</text><text class="l" text-anchor="end" transform="translate(668.35 60.32) scale(1.04 1)">55</text><text class="l" text-anchor="end" transform="translate(668.35 49.85) scale(1.04 1)">60</text><text class="l" text-anchor="end" transform="translate(668.35 39.37) scale(1.04 1)">65</text><text class="l" text-anchor="end" transform="translate(668.35 28.9) scale(1.04 1)">70</text>
<text class="l" text-anchor="middle" transform="translate(673.05 121.3) scale(1.04 1)">0</text><text class="l" text-anchor="middle" transform="translate(720.53 121.3) scale(1.04 1)">4</text><text class="l" text-anchor="middle" transform="translate(768.02 121.3) scale(1.04 1)">8</text><text class="l" text-anchor="middle" transform="translate(815.5 121.3) scale(1.04 1)">12</text><text class="l" text-anchor="middle" transform="translate(862.98 121.3) scale(1.04 1)">16</text><text class="l" text-anchor="middle" transform="translate(910.47 121.3) scale(1.04 1)">20</text><text class="l" text-anchor="middle" transform="translate(957.95 121.3) scale(1.04 1)">24</text>
<text class="t" x="920.35" y="22.65" textLength="38.7" lengthAdjust="spacingAndGlyphs">AQI (AQI)</text>
</g>
<g>
<clipPath id="c5"><rect x="348.05" y="134.8" width="284.9" height="82.5"/></clipPath>
<rect x="348.05" y="134.15" width="284.9" height="83.8" fill="none" stroke="#000" stroke-width="1.9"/>
<path d="M348.05 212.5h3.8M632.95 212.5h-3.8M348.05 202.5h3.8M632.95 202.5h-3.8M348.05 191.5h3.8M632.95 191.5h-3.8M348.05 181.5h3.8M632.95 181.5h-3.8M348.05 170.5h3.8M632.95 170.5h-3.8M348.05 160.5h3.8M632.95 160.5h-3.8M348.05 149.5h3.8M632.95 149.5h-3.8M348.05 139.5h3.8M632.95 139.5h-3.8" fill="none" stroke="#000" stroke-width="1.15"/>
<path d="M371.79 134.15v3.7M371.79 217.95v-3.7M419.27 134.15v3.7M419.27 217.95v-3.7M466.76 134.15v3.7M466.76 217.95v-3.7M514.24 134.15v3.7M514.24 217.95v-3.7M561.73 134.15v3.7M561.73 217.95v-3.7M609.21 134.15v3.7M609.21 217.95v-3.7" fill="none" stroke="#000" stroke-width="1.1"/>
<g clip-path="url(#c5)">
<polyline points="348.05,169.14 359.92,185.06 371.79,184.01 383.66,177.73 395.53,173.95 407.4,181.5 419.27,192.81 431.15,184.43 443.02,196.79 454.89,202.45 466.76,211.25 478.63,196.16 490.5,195.74 502.37,196.79 514.24,199.93 526.11,174.16 537.98,184.43 549.85,178.77 561.73,184.01 573.6,174.79 585.47,183.17 597.34,185.06 609.21,187.99 621.08,193.44 632.95,195.32" fill="none" stroke="#00ffff" stroke-width="1.05" stroke-linejoin="round"/>
<g stroke="#00ffff"><use href="#k" x="348.05" y="169.14"/><use href="#k" x="359.92" y="185.06"/><use href="#k" x="371.79" y="184.01"/><use href="#k" x="383.66" y="177.73"/><use href="#k" x="395.53" y="173.95"/><use href="#k" x="407.4" y="181.5"/><use href="#k" x="419.27" y="192.81"/><use href="#k" x="431.15" y="184.43"/><use href="#k" x="443.02" y="196.79"/><use href="#k" x="454.89" y="202.45"/><use href="#k" x="466.76" y="211.25"/><use href="#k" x="478.63" y="196.16"/><use href="#k" x="490.5" y="195.74"/><use href="#k" x="502.37" y="196.79"/><use href="#k" x="514.24" y="199.93"/><use href="#k" x="526.11" y="174.16"/><use href="#k" x="537.98" y="184.43"/><use href="#k" x="549.85" y="178.77"/><use href="#k" x="561.73" y="184.01"/><use href="#k" x="573.6" y="174.79"/><use href="#k" x="585.47" y="183.17"/><use href="#k" x="597.34" y="185.06"/><use href="#k" x="609.21" y="187.99"/><use href="#k" x="621.08" y="193.44"/><use href="#k" x="632.95" y="195.32"/></g>
<polyline points="348.05,195.32 359.92,187.57 371.79,194.49 383.66,193.86 395.53,199.3 407.4,202.45 419.27,204.12 431.15,207.06 443.02,203.7 454.89,195.32 466.76,191.34 478.63,176.26 490.5,165.37 502.37,183.17 514.24,185.06 526.11,175.21 537.98,149.23 549.85,156.78 561.73,191.13 573.6,188.62 585.47,192.39 597.34,191.76 609.21,198.89 621.08,194.28 632.95,194.28" fill="none" stroke="#00ff00" stroke-width="1.05" stroke-linejoin="round"/>
<g stroke="#00ff00"><use href="#k" x="348.05" y="195.32"/><use href="#k" x="359.92" y="187.57"/><use href="#k" x="371.79" y="194.49"/><use href="#k" x="383.66" y="193.86"/><use href="#k" x="395.53" y="199.3"/><use href="#k" x="407.4" y="202.45"/><use href="#k" x="419.27" y="204.12"/><use href="#k" x="431.15" y="207.06"/><use href="#k" x="443.02" y="203.7"/><use href="#k" x="454.89" y="195.32"/><use href="#k" x="466.76" y="191.34"/><use href="#k" x="478.63" y="176.26"/><use href="#k" x="490.5" y="165.37"/><use href="#k" x="502.37" y="183.17"/><use href="#k" x="514.24" y="185.06"/><use href="#k" x="526.11" y="175.21"/><use href="#k" x="537.98" y="149.23"/><use href="#k" x="549.85" y="156.78"/><use href="#k" x="561.73" y="191.13"/><use href="#k" x="573.6" y="188.62"/><use href="#k" x="585.47" y="192.39"/><use href="#k" x="597.34" y="191.76"/><use href="#k" x="609.21" y="198.89"/><use href="#k" x="621.08" y="194.28"/><use href="#k" x="632.95" y="194.28"/></g>
<polyline points="348.05,191.76 359.92,163.06 371.79,147.14 383.66,176.89 395.53,189.25 407.4,185.48 419.27,206.43 431.15,196.37 443.02,188.62 454.89,186.94 466.76,188.62 478.63,166.41 490.5,167.04 502.37,176.89 514.24,163.06 526.11,155.73 537.98,147.56 549.85,141.9 561.73,147.98 573.6,152.17 585.47,161.59 597.34,167.67 609.21,170.81 621.08,167.04 632.95,158.45" fill="none" stroke="#0000ff" stroke-width="1.05" stroke-linejoin="round"/>
<g stroke="#0000ff"><use href="#k" x="348.05" y="191.76"/><use href="#k" x="359.92" y="163.06"/><use href="#k" x="371.79" y="147.14"/><use href="#k" x="383.66" y="176.89"/><use href="#k" x="395.53" y="189.25"/><use href="#k" x="407.4" y="185.48"/><use href="#k" x="419.27" y="206.43"/><use href="#k" x="431.15" y="196.37"/><use href="#k" x="443.02" y="188.62"/><use href="#k" x="454.89" y="186.94"/><use href="#k" x="466.76" y="188.62"/><use href="#k" x="478.63" y="166.41"/><use href="#k" x="490.5" y="167.04"/><use href="#k" x="502.37" y="176.89"/><use href="#k" x="514.24" y="163.06"/><use href="#k" x="526.11" y="155.73"/><use href="#k" x="537.98" y="147.56"/><use href="#k" x="549.85" y="141.9"/><use href="#k" x="561.73" y="147.98"/><use href="#k" x="573.6" y="152.17"/><use href="#k" x="585.47" y="161.59"/><use href="#k" x="597.34" y="167.67"/><use href="#k" x="609.21" y="170.81"/><use href="#k" x="621.08" y="167.04"/><use href="#k" x="632.95" y="158.45"/></g>
<polyline points="348.05,157.82 359.92,161.38 371.79,167.04 383.66,174.16 395.53,165.37 407.4,161.38 419.27,171.86 431.15,174.16 443.02,164.53 454.89,162.01 466.76,151.12 478.63,147.14 490.5,155.31 502.37,160.97 514.24,167.67 526.11,172.91 537.98,177.73 549.85,186.94 561.73,185.06 573.6,191.76 585.47,189.67 597.34,191.76 609.21,198.89 621.08,193.44 632.95,192.81" fill="none" stroke="#ff0000" stroke-width="1.05" stroke-linejoin="round"/>
<g stroke="#ff0000"><use href="#k" x="348.05" y="157.82"/><use href="#k" x="359.92" y="161.38"/><use href="#k" x="371.79" y="167.04"/><use href="#k" x="383.66" y="174.16"/><use href="#k" x="395.53" y="165.37"/><use href="#k" x="407.4" y="161.38"/><use href="#k" x="419.27" y="171.86"/><use href="#k" x="431.15" y="174.16"/><use href="#k" x="443.02" y="164.53"/><use href="#k" x="454.89" y="162.01"/><use href="#k" x="466.76" y="151.12"/><use href="#k" x="478.63" y="147.14"/><use href="#k" x="490.5" y="155.31"/><use href="#k" x="502.37" y="160.97"/><use href="#k" x="514.24" y="167.67"/><use href="#k" x="526.11" y="172.91"/><use href="#k" x="537.98" y="177.73"/><use href="#k" x="549.85" y="186.94"/><use href="#k" x="561.73" y="185.06"/><use href="#k" x="573.6" y="191.76"/><use href="#k" x="585.47" y="189.67"/><use href="#k" x="597.34" y="191.76"/><use href="#k" x="609.21" y="198.89"/><use href="#k" x="621.08" y="193.44"/><use href="#k" x="632.95" y="192.81"/></g>
</g>
<path d="M348.05 207.47H632.95M348.05 197H632.95M348.05 186.52H632.95M348.05 176.05H632.95M348.05 165.57H632.95M348.05 155.1H632.95M348.05 144.62H632.95M395.53 134.15V217.95M443.02 134.15V217.95M490.5 134.15V217.95M537.98 134.15V217.95M585.47 134.15V217.95" fill="none" stroke="#000" stroke-width="1.3" stroke-dasharray="1.3 1.84"/>
<path d="M348.05 207.47h5.5M632.95 207.47h-5.5M348.05 197h5.5M632.95 197h-5.5M348.05 186.52h5.5M632.95 186.52h-5.5M348.05 176.05h5.5M632.95 176.05h-5.5M348.05 165.57h5.5M632.95 165.57h-5.5M348.05 155.1h5.5M632.95 155.1h-5.5M348.05 144.62h5.5M632.95 144.62h-5.5" fill="none" stroke="#000" stroke-width="1.15"/>
<path d="M395.53 134.15v6.5M395.53 217.95v-6.5M443.02 134.15v6.5M443.02 217.95v-6.5M490.5 134.15v6.5M490.5 217.95v-6.5M537.98 134.15v6.5M537.98 217.95v-6.5M585.47 134.15v6.5M585.47 217.95v-6.5" fill="none" stroke="#000" stroke-width="1.1"/>
<text class="l" text-anchor="end" transform="translate(343.35 220.7) scale(1.04 1)">10</text><text class="l" text-anchor="end" transform="translate(343.35 210.22) scale(1.04 1)">15</text><text class="l" text-anchor="end" transform="translate(343.35 199.75) scale(1.04 1)">20</text><text class="l" text-anchor="end" transform="translate(343.35 189.27) scale(1.04 1)">25</text><text class="l" text-anchor="end" transform="translate(343.35 178.8) scale(1.04 1)">30</text><text class="l" text-anchor="end" transform="translate(343.35 168.32) scale(1.04 1)">35</text><text class="l" text-anchor="end" transform="translate(343.35 157.85) scale(1.04 1)">40</text><text class="l" text-anchor="end" transform="translate(343.35 147.38) scale(1.04 1)">45</text><text class="l" text-anchor="end" transform="translate(343.35 136.9) scale(1.04 1)">50</text>
<text class="l" text-anchor="middle" transform="translate(348.05 229.3) scale(1.04 1)">0</text><text class="l" text-anchor="middle" transform="translate(395.53 229.3) scale(1.04 1)">4</text><text class="l" text-anchor="middle" transform="translate(443.02 229.3) scale(1.04 1)">8</text><text class="l" text-anchor="middle" transform="translate(490.5 229.3) scale(1.04 1)">12</text><text class="l" text-anchor="middle" transform="translate(537.98 229.3) scale(1.04 1)">16</text><text class="l" text-anchor="middle" transform="translate(585.47 229.3) scale(1.04 1)">20</text><text class="l" text-anchor="middle" transform="translate(632.95 229.3) scale(1.04 1)">24</text>
<text class="t" x="577.35" y="130.65" textLength="56.7" lengthAdjust="spacingAndGlyphs">RSP (ug/m3)</text>
</g>
<g>
<clipPath id="c6"><rect x="673.05" y="134.8" width="284.9" height="82.5"/></clipPath>
<rect x="673.05" y="134.15" width="284.9" height="83.8" fill="none" stroke="#000" stroke-width="1.9"/>
<path d="M673.05 209.5h3.8M957.95 209.5h-3.8M673.05 192.5h3.8M957.95 192.5h-3.8M673.05 176.5h3.8M957.95 176.5h-3.8M673.05 159.5h3.8M957.95 159.5h-3.8M673.05 142.5h3.8M957.95 142.5h-3.8" fill="none" stroke="#000" stroke-width="1.15"/>
<path d="M696.79 134.15v3.7M696.79 217.95v-3.7M744.27 134.15v3.7M744.27 217.95v-3.7M791.76 134.15v3.7M791.76 217.95v-3.7M839.24 134.15v3.7M839.24 217.95v-3.7M886.72 134.15v3.7M886.72 217.95v-3.7M934.21 134.15v3.7M934.21 217.95v-3.7" fill="none" stroke="#000" stroke-width="1.1"/>
<g clip-path="url(#c6)">
<polyline points="673.05,177.39 684.92,196.83 696.79,196.83 708.66,187.61 720.53,186.44 732.4,191.13 744.27,196.83 756.15,191.8 768.02,203.54 779.89,206.22 791.76,214.26 803.63,206.22 815.5,202.87 827.37,202.53 839.24,216.27 851.11,208.23 862.98,201.86 874.85,196.16 886.72,204.54 898.6,191.13 910.47,186.11 922.34,189.79 934.21,186.44 946.08,194.82 957.95,192.81" fill="none" stroke="#00ffff" stroke-width="1.05" stroke-linejoin="round"/>
<g stroke="#00ffff"><use href="#k" x="673.05" y="177.39"/><use href="#k" x="684.92" y="196.83"/><use href="#k" x="696.79" y="196.83"/><use href="#k" x="708.66" y="187.61"/><use href="#k" x="720.53" y="186.44"/><use href="#k" x="732.4" y="191.13"/><use href="#k" x="744.27" y="196.83"/><use href="#k" x="756.15" y="191.8"/><use href="#k" x="768.02" y="203.54"/><use href="#k" x="779.89" y="206.22"/><use href="#k" x="791.76" y="214.26"/><use href="#k" x="803.63" y="206.22"/><use href="#k" x="815.5" y="202.87"/><use href="#k" x="827.37" y="202.53"/><use href="#k" x="839.24" y="216.27"/><use href="#k" x="851.11" y="208.23"/><use href="#k" x="862.98" y="201.86"/><use href="#k" x="874.85" y="196.16"/><use href="#k" x="886.72" y="204.54"/><use href="#k" x="898.6" y="191.13"/><use href="#k" x="910.47" y="186.11"/><use href="#k" x="922.34" y="189.79"/><use href="#k" x="934.21" y="186.44"/><use href="#k" x="946.08" y="194.82"/><use href="#k" x="957.95" y="192.81"/></g>
<polyline points="673.05,193.82 684.92,179.4 696.79,195.83 708.66,185.44 720.53,195.49 732.4,199.51 744.27,196.83 756.15,206.55 768.02,205.21 779.89,190.3 791.76,198.84 803.63,196.16 815.5,188.12 827.37,207.22 839.24,197.5 851.11,199.85 862.98,189.12 874.85,183.93 886.72,205.21 898.6,197.5 910.47,202.53 922.34,196.16 934.21,196.83 946.08,191.8 957.95,195.49" fill="none" stroke="#00ff00" stroke-width="1.05" stroke-linejoin="round"/>
<g stroke="#00ff00"><use href="#k" x="673.05" y="193.82"/><use href="#k" x="684.92" y="179.4"/><use href="#k" x="696.79" y="195.83"/><use href="#k" x="708.66" y="185.44"/><use href="#k" x="720.53" y="195.49"/><use href="#k" x="732.4" y="199.51"/><use href="#k" x="744.27" y="196.83"/><use href="#k" x="756.15" y="206.55"/><use href="#k" x="768.02" y="205.21"/><use href="#k" x="779.89" y="190.3"/><use href="#k" x="791.76" y="198.84"/><use href="#k" x="803.63" y="196.16"/><use href="#k" x="815.5" y="188.12"/><use href="#k" x="827.37" y="207.22"/><use href="#k" x="839.24" y="197.5"/><use href="#k" x="851.11" y="199.85"/><use href="#k" x="862.98" y="189.12"/><use href="#k" x="874.85" y="183.93"/><use href="#k" x="886.72" y="205.21"/><use href="#k" x="898.6" y="197.5"/><use href="#k" x="910.47" y="202.53"/><use href="#k" x="922.34" y="196.16"/><use href="#k" x="934.21" y="196.83"/><use href="#k" x="946.08" y="191.8"/><use href="#k" x="957.95" y="195.49"/></g>
<polyline points="673.05,195.49 684.92,190.13 696.79,186.11 708.66,195.49 720.53,200.52 732.4,190.13 744.27,216.27 756.15,196.5 768.02,195.83 779.89,196.83 791.76,200.35 803.63,195.83 815.5,189.79 827.37,190.3 839.24,182.42 851.11,174.37 862.98,186.11 874.85,176.39 886.72,179.74 898.6,176.39 910.47,176.39 922.34,180.41 934.21,182.75 946.08,174.37 957.95,163.31" fill="none" stroke="#0000ff" stroke-width="1.05" stroke-linejoin="round"/>
<g stroke="#0000ff"><use href="#k" x="673.05" y="195.49"/><use href="#k" x="684.92" y="190.13"/><use href="#k" x="696.79" y="186.11"/><use href="#k" x="708.66" y="195.49"/><use href="#k" x="720.53" y="200.52"/><use href="#k" x="732.4" y="190.13"/><use href="#k" x="744.27" y="216.27"/><use href="#k" x="756.15" y="196.5"/><use href="#k" x="768.02" y="195.83"/><use href="#k" x="779.89" y="196.83"/><use href="#k" x="791.76" y="200.35"/><use href="#k" x="803.63" y="195.83"/><use href="#k" x="815.5" y="189.79"/><use href="#k" x="827.37" y="190.3"/><use href="#k" x="839.24" y="182.42"/><use href="#k" x="851.11" y="174.37"/><use href="#k" x="862.98" y="186.11"/><use href="#k" x="874.85" y="176.39"/><use href="#k" x="886.72" y="179.74"/><use href="#k" x="898.6" y="176.39"/><use href="#k" x="910.47" y="176.39"/><use href="#k" x="922.34" y="180.41"/><use href="#k" x="934.21" y="182.75"/><use href="#k" x="946.08" y="174.37"/><use href="#k" x="957.95" y="163.31"/></g>
<polyline points="673.05,163.65 684.92,171.19 696.79,182.42 708.66,179.4 720.53,162.31 732.4,164.65 744.27,178.4 756.15,177.06 768.02,165.32 779.89,164.99 791.76,150.24 803.63,156.27 815.5,159.63 827.37,160.63 839.24,162.64 851.11,168.68 862.98,168.51 874.85,182.42 886.72,168.51 898.6,190.8 910.47,180.07 922.34,189.12 934.21,191.8 946.08,191.47 957.95,200.85" fill="none" stroke="#ff0000" stroke-width="1.05" stroke-linejoin="round"/>
<g stroke="#ff0000"><use href="#k" x="673.05" y="163.65"/><use href="#k" x="684.92" y="171.19"/><use href="#k" x="696.79" y="182.42"/><use href="#k" x="708.66" y="179.4"/><use href="#k" x="720.53" y="162.31"/><use href="#k" x="732.4" y="164.65"/><use href="#k" x="744.27" y="178.4"/><use href="#k" x="756.15" y="177.06"/><use href="#k" x="768.02" y="165.32"/><use href="#k" x="779.89" y="164.99"/><use href="#k" x="791.76" y="150.24"/><use href="#k" x="803.63" y="156.27"/><use href="#k" x="815.5" y="159.63"/><use href="#k" x="827.37" y="160.63"/><use href="#k" x="839.24" y="162.64"/><use href="#k" x="851.11" y="168.68"/><use href="#k" x="862.98" y="168.51"/><use href="#k" x="874.85" y="182.42"/><use href="#k" x="886.72" y="168.51"/><use href="#k" x="898.6" y="190.8"/><use href="#k" x="910.47" y="180.07"/><use href="#k" x="922.34" y="189.12"/><use href="#k" x="934.21" y="191.8"/><use href="#k" x="946.08" y="191.47"/><use href="#k" x="957.95" y="200.85"/></g>
</g>
<path d="M673.05 201.19H957.95M673.05 184.43H957.95M673.05 167.67H957.95M673.05 150.91H957.95M720.53 134.15V217.95M768.02 134.15V217.95M815.5 134.15V217.95M862.98 134.15V217.95M910.47 134.15V217.95" fill="none" stroke="#000" stroke-width="1.3" stroke-dasharray="1.3 1.84"/>
<path d="M673.05 201.19h5.5M957.95 201.19h-5.5M673.05 184.43h5.5M957.95 184.43h-5.5M673.05 167.67h5.5M957.95 167.67h-5.5M673.05 150.91h5.5M957.95 150.91h-5.5" fill="none" stroke="#000" stroke-width="1.15"/>
<path d="M720.53 134.15v6.5M720.53 217.95v-6.5M768.02 134.15v6.5M768.02 217.95v-6.5M815.5 134.15v6.5M815.5 217.95v-6.5M862.98 134.15v6.5M862.98 217.95v-6.5M910.47 134.15v6.5M910.47 217.95v-6.5" fill="none" stroke="#000" stroke-width="1.1"/>
<text class="l" text-anchor="end" transform="translate(668.35 220.7) scale(1.04 1)">5</text><text class="l" text-anchor="end" transform="translate(668.35 203.94) scale(1.04 1)">10</text><text class="l" text-anchor="end" transform="translate(668.35 187.18) scale(1.04 1)">15</text><text class="l" text-anchor="end" transform="translate(668.35 170.42) scale(1.04 1)">20</text><text class="l" text-anchor="end" transform="translate(668.35 153.66) scale(1.04 1)">25</text><text class="l" text-anchor="end" transform="translate(668.35 136.9) scale(1.04 1)">30</text>
<text class="l" text-anchor="middle" transform="translate(673.05 229.3) scale(1.04 1)">0</text><text class="l" text-anchor="middle" transform="translate(720.53 229.3) scale(1.04 1)">4</text><text class="l" text-anchor="middle" transform="translate(768.02 229.3) scale(1.04 1)">8</text><text class="l" text-anchor="middle" transform="translate(815.5 229.3) scale(1.04 1)">12</text><text class="l" text-anchor="middle" transform="translate(862.98 229.3) scale(1.04 1)">16</text><text class="l" text-anchor="middle" transform="translate(910.47 229.3) scale(1.04 1)">20</text><text class="l" text-anchor="middle" transform="translate(957.95 229.3) scale(1.04 1)">24</text>
<text class="t" x="902.85" y="130.65" textLength="56.2" lengthAdjust="spacingAndGlyphs">FSP (ug/m3)</text>
</g>
<g>
<clipPath id="c7"><rect x="348.05" y="242.85" width="284.9" height="82.5"/></clipPath>
<rect x="348.05" y="242.2" width="284.9" height="83.8" fill="none" stroke="#000" stroke-width="1.9"/>
<path d="M348.05 320.5h3.8M632.95 320.5h-3.8M348.05 308.5h3.8M632.95 308.5h-3.8M348.05 296.5h3.8M632.95 296.5h-3.8M348.05 284.5h3.8M632.95 284.5h-3.8M348.05 272.5h3.8M632.95 272.5h-3.8M348.05 260.5h3.8M632.95 260.5h-3.8M348.05 248.5h3.8M632.95 248.5h-3.8" fill="none" stroke="#000" stroke-width="1.15"/>
<path d="M371.79 242.2v3.7M371.79 326v-3.7M419.27 242.2v3.7M419.27 326v-3.7M466.76 242.2v3.7M466.76 326v-3.7M514.24 242.2v3.7M514.24 326v-3.7M561.73 242.2v3.7M561.73 326v-3.7M609.21 242.2v3.7M609.21 326v-3.7" fill="none" stroke="#000" stroke-width="1.1"/>
<g clip-path="url(#c7)">
<polyline points="348.05,265.54 359.92,267.58 371.79,268.54 383.66,265.54 395.53,265.54 407.4,264.95 419.27,265.9 431.15,269.02 443.02,274.16 454.89,269.97 466.76,270.57 478.63,267.94 490.5,269.38 502.37,274.16 514.24,275.72 526.11,281.35 537.98,284.94 549.85,279.91 561.73,280.27 573.6,292.6 585.47,297.27 597.34,317.86 609.21,319.66 621.08,320.31 632.95,320.31" fill="none" stroke="#00ffff" stroke-width="1.05" stroke-linejoin="round"/>
<g stroke="#00ffff"><use href="#k" x="348.05" y="265.54"/><use href="#k" x="359.92" y="267.58"/><use href="#k" x="371.79" y="268.54"/><use href="#k" x="383.66" y="265.54"/><use href="#k" x="395.53" y="265.54"/><use href="#k" x="407.4" y="264.95"/><use href="#k" x="419.27" y="265.9"/><use href="#k" x="431.15" y="269.02"/><use href="#k" x="443.02" y="274.16"/><use href="#k" x="454.89" y="269.97"/><use href="#k" x="466.76" y="270.57"/><use href="#k" x="478.63" y="267.94"/><use href="#k" x="490.5" y="269.38"/><use href="#k" x="502.37" y="274.16"/><use href="#k" x="514.24" y="275.72"/><use href="#k" x="526.11" y="281.35"/><use href="#k" x="537.98" y="284.94"/><use href="#k" x="549.85" y="279.91"/><use href="#k" x="561.73" y="280.27"/><use href="#k" x="573.6" y="292.6"/><use href="#k" x="585.47" y="297.27"/><use href="#k" x="597.34" y="317.86"/><use href="#k" x="609.21" y="319.66"/><use href="#k" x="621.08" y="320.31"/><use href="#k" x="632.95" y="320.31"/></g>
<polyline points="348.05,320.73 359.92,320.73 371.79,320.73 383.66,320.73 395.53,320.73 407.4,320.73 419.27,320.73 431.15,320.73 443.02,316.18 454.89,310.08 466.76,302.9 478.63,301.46 490.5,294.63 502.37,290.56 514.24,282.9 526.11,268.54 537.98,261.83 549.85,279.19 561.73,286.37 573.6,287.09 585.47,286.37 597.34,281.35 609.21,295.71 621.08,301.46 632.95,287.09" fill="none" stroke="#00ff00" stroke-width="1.05" stroke-linejoin="round"/>
<g stroke="#00ff00"><use href="#k" x="348.05" y="320.73"/><use href="#k" x="359.92" y="320.73"/><use href="#k" x="371.79" y="320.73"/><use href="#k" x="383.66" y="320.73"/><use href="#k" x="395.53" y="320.73"/><use href="#k" x="407.4" y="320.73"/><use href="#k" x="419.27" y="320.73"/><use href="#k" x="431.15" y="320.73"/><use href="#k" x="443.02" y="316.18"/><use href="#k" x="454.89" y="310.08"/><use href="#k" x="466.76" y="302.9"/><use href="#k" x="478.63" y="301.46"/><use href="#k" x="490.5" y="294.63"/><use href="#k" x="502.37" y="290.56"/><use href="#k" x="514.24" y="282.9"/><use href="#k" x="526.11" y="268.54"/><use href="#k" x="537.98" y="261.83"/><use href="#k" x="549.85" y="279.19"/><use href="#k" x="561.73" y="286.37"/><use href="#k" x="573.6" y="287.09"/><use href="#k" x="585.47" y="286.37"/><use href="#k" x="597.34" y="281.35"/><use href="#k" x="609.21" y="295.71"/><use href="#k" x="621.08" y="301.46"/><use href="#k" x="632.95" y="287.09"/></g>
<polyline points="348.05,287.09 359.92,269.02 371.79,269.97 383.66,264.83 395.53,264.47 407.4,264.23 419.27,262.43 431.15,267.34 443.02,267.94 454.89,269.02 466.76,266.5 478.63,265.54 490.5,263.27 502.37,260.76 514.24,260.16 526.11,255.61 537.98,255.01 549.85,254.17 561.73,252.97 573.6,251.06 585.47,250.1 597.34,251.54 609.21,252.5 621.08,257.64 632.95,261.11" fill="none" stroke="#0000ff" stroke-width="1.05" stroke-linejoin="round"/>
<g stroke="#0000ff"><use href="#k" x="348.05" y="287.09"/><use href="#k" x="359.92" y="269.02"/><use href="#k" x="371.79" y="269.97"/><use href="#k" x="383.66" y="264.83"/><use href="#k" x="395.53" y="264.47"/><use href="#k" x="407.4" y="264.23"/><use href="#k" x="419.27" y="262.43"/><use href="#k" x="431.15" y="267.34"/><use href="#k" x="443.02" y="267.94"/><use href="#k" x="454.89" y="269.02"/><use href="#k" x="466.76" y="266.5"/><use href="#k" x="478.63" y="265.54"/><use href="#k" x="490.5" y="263.27"/><use href="#k" x="502.37" y="260.76"/><use href="#k" x="514.24" y="260.16"/><use href="#k" x="526.11" y="255.61"/><use href="#k" x="537.98" y="255.01"/><use href="#k" x="549.85" y="254.17"/><use href="#k" x="561.73" y="252.97"/><use href="#k" x="573.6" y="251.06"/><use href="#k" x="585.47" y="250.1"/><use href="#k" x="597.34" y="251.54"/><use href="#k" x="609.21" y="252.5"/><use href="#k" x="621.08" y="257.64"/><use href="#k" x="632.95" y="261.11"/></g>
<polyline points="348.05,260.76 359.92,266.5 371.79,261.35 383.66,259.08 395.53,260.76 407.4,259.08 419.27,262.79 431.15,264.83 443.02,266.26 454.89,262.19 466.76,264.47 478.63,260.76 490.5,257.28 502.37,254.17 514.24,251.9 526.11,247.83 537.98,246.99 549.85,252.5 561.73,251.9 573.6,255.01 585.47,260.4 597.34,260.76 609.21,259.32 621.08,259.32 632.95,262.43" fill="none" stroke="#ff0000" stroke-width="1.05" stroke-linejoin="round"/>
<g stroke="#ff0000"><use href="#k" x="348.05" y="260.76"/><use href="#k" x="359.92" y="266.5"/><use href="#k" x="371.79" y="261.35"/><use href="#k" x="383.66" y="259.08"/><use href="#k" x="395.53" y="260.76"/><use href="#k" x="407.4" y="259.08"/><use href="#k" x="419.27" y="262.79"/><use href="#k" x="431.15" y="264.83"/><use href="#k" x="443.02" y="266.26"/><use href="#k" x="454.89" y="262.19"/><use href="#k" x="466.76" y="264.47"/><use href="#k" x="478.63" y="260.76"/><use href="#k" x="490.5" y="257.28"/><use href="#k" x="502.37" y="254.17"/><use href="#k" x="514.24" y="251.9"/><use href="#k" x="526.11" y="247.83"/><use href="#k" x="537.98" y="246.99"/><use href="#k" x="549.85" y="252.5"/><use href="#k" x="561.73" y="251.9"/><use href="#k" x="573.6" y="255.01"/><use href="#k" x="585.47" y="260.4"/><use href="#k" x="597.34" y="260.76"/><use href="#k" x="609.21" y="259.32"/><use href="#k" x="621.08" y="259.32"/><use href="#k" x="632.95" y="262.43"/></g>
</g>
<path d="M348.05 314.03H632.95M348.05 302.06H632.95M348.05 290.09H632.95M348.05 278.11H632.95M348.05 266.14H632.95M348.05 254.17H632.95M395.53 242.2V326M443.02 242.2V326M490.5 242.2V326M537.98 242.2V326M585.47 242.2V326" fill="none" stroke="#000" stroke-width="1.3" stroke-dasharray="1.3 1.84"/>
<path d="M348.05 314.03h5.5M632.95 314.03h-5.5M348.05 302.06h5.5M632.95 302.06h-5.5M348.05 290.09h5.5M632.95 290.09h-5.5M348.05 278.11h5.5M632.95 278.11h-5.5M348.05 266.14h5.5M632.95 266.14h-5.5M348.05 254.17h5.5M632.95 254.17h-5.5" fill="none" stroke="#000" stroke-width="1.15"/>
<path d="M395.53 242.2v6.5M395.53 326v-6.5M443.02 242.2v6.5M443.02 326v-6.5M490.5 242.2v6.5M490.5 326v-6.5M537.98 242.2v6.5M537.98 326v-6.5M585.47 242.2v6.5M585.47 326v-6.5" fill="none" stroke="#000" stroke-width="1.1"/>
<text class="l" text-anchor="end" transform="translate(343.35 328.75) scale(1.04 1)">0</text><text class="l" text-anchor="end" transform="translate(343.35 316.78) scale(1.04 1)">10</text><text class="l" text-anchor="end" transform="translate(343.35 304.81) scale(1.04 1)">20</text><text class="l" text-anchor="end" transform="translate(343.35 292.84) scale(1.04 1)">30</text><text class="l" text-anchor="end" transform="translate(343.35 280.86) scale(1.04 1)">40</text><text class="l" text-anchor="end" transform="translate(343.35 268.89) scale(1.04 1)">50</text><text class="l" text-anchor="end" transform="translate(343.35 256.92) scale(1.04 1)">60</text><text class="l" text-anchor="end" transform="translate(343.35 244.95) scale(1.04 1)">70</text>
<text class="l" text-anchor="middle" transform="translate(348.05 337.35) scale(1.04 1)">0</text><text class="l" text-anchor="middle" transform="translate(395.53 337.35) scale(1.04 1)">4</text><text class="l" text-anchor="middle" transform="translate(443.02 337.35) scale(1.04 1)">8</text><text class="l" text-anchor="middle" transform="translate(490.5 337.35) scale(1.04 1)">12</text><text class="l" text-anchor="middle" transform="translate(537.98 337.35) scale(1.04 1)">16</text><text class="l" text-anchor="middle" transform="translate(585.47 337.35) scale(1.04 1)">20</text><text class="l" text-anchor="middle" transform="translate(632.95 337.35) scale(1.04 1)">24</text>
<text class="t" x="597.55" y="238.7" textLength="36.5" lengthAdjust="spacingAndGlyphs">O3 (ppb)</text>
</g>
<g>
<clipPath id="c8"><rect x="673.05" y="242.85" width="284.9" height="82.5"/></clipPath>
<rect x="673.05" y="242.2" width="284.9" height="83.8" fill="none" stroke="#000" stroke-width="1.9"/>
<path d="M673.05 317.5h3.8M957.95 317.5h-3.8M673.05 300.5h3.8M957.95 300.5h-3.8M673.05 284.5h3.8M957.95 284.5h-3.8M673.05 267.5h3.8M957.95 267.5h-3.8M673.05 250.5h3.8M957.95 250.5h-3.8" fill="none" stroke="#000" stroke-width="1.15"/>
<path d="M696.79 242.2v3.7M696.79 326v-3.7M744.27 242.2v3.7M744.27 326v-3.7M791.76 242.2v3.7M791.76 326v-3.7M839.24 242.2v3.7M839.24 326v-3.7M886.72 242.2v3.7M886.72 326v-3.7M934.21 242.2v3.7M934.21 326v-3.7" fill="none" stroke="#000" stroke-width="1.1"/>
<g clip-path="url(#c8)">
<polyline points="673.05,309.07 684.92,309.58 696.79,312.09 708.66,312.76 720.53,312.09 732.4,315.17 744.27,314.6 756.15,313.09 768.02,309.07 779.89,311.08 791.76,310.66 803.63,315.17 815.5,316.2 827.37,313.77 839.24,313.09 851.11,314.6 862.98,312.51 874.85,310.66 886.72,305.55 898.6,301.87 910.47,292.65 922.34,265.5 934.21,265.5 946.08,251.5 957.95,246.39" fill="none" stroke="#00ffff" stroke-width="1.05" stroke-linejoin="round"/>
<g stroke="#00ffff"><use href="#k" x="673.05" y="309.07"/><use href="#k" x="684.92" y="309.58"/><use href="#k" x="696.79" y="312.09"/><use href="#k" x="708.66" y="312.76"/><use href="#k" x="720.53" y="312.09"/><use href="#k" x="732.4" y="315.17"/><use href="#k" x="744.27" y="314.6"/><use href="#k" x="756.15" y="313.09"/><use href="#k" x="768.02" y="309.07"/><use href="#k" x="779.89" y="311.08"/><use href="#k" x="791.76" y="310.66"/><use href="#k" x="803.63" y="315.17"/><use href="#k" x="815.5" y="316.2"/><use href="#k" x="827.37" y="313.77"/><use href="#k" x="839.24" y="313.09"/><use href="#k" x="851.11" y="314.6"/><use href="#k" x="862.98" y="312.51"/><use href="#k" x="874.85" y="310.66"/><use href="#k" x="886.72" y="305.55"/><use href="#k" x="898.6" y="301.87"/><use href="#k" x="910.47" y="292.65"/><use href="#k" x="922.34" y="265.5"/><use href="#k" x="934.21" y="265.5"/><use href="#k" x="946.08" y="251.5"/><use href="#k" x="957.95" y="246.39"/></g>
<polyline points="673.05,246.39 684.92,248.4 696.79,264.83 708.66,264.49 720.53,276.22 732.4,282.76 744.27,287.45 756.15,280.25 768.02,276.22 779.89,275.13 791.76,291.56 803.63,298.35 815.5,303.88 827.37,305.55 839.24,309.41 851.11,308.57 862.98,309.07 874.85,306.56 886.72,305.55 898.6,303.46 910.47,308.4 922.34,305.55 934.21,302.87 946.08,307.98 957.95,301.87" fill="none" stroke="#00ff00" stroke-width="1.05" stroke-linejoin="round"/>
<g stroke="#00ff00"><use href="#k" x="673.05" y="246.39"/><use href="#k" x="684.92" y="248.4"/><use href="#k" x="696.79" y="264.83"/><use href="#k" x="708.66" y="264.49"/><use href="#k" x="720.53" y="276.22"/><use href="#k" x="732.4" y="282.76"/><use href="#k" x="744.27" y="287.45"/><use href="#k" x="756.15" y="280.25"/><use href="#k" x="768.02" y="276.22"/><use href="#k" x="779.89" y="275.13"/><use href="#k" x="791.76" y="291.56"/><use href="#k" x="803.63" y="298.35"/><use href="#k" x="815.5" y="303.88"/><use href="#k" x="827.37" y="305.55"/><use href="#k" x="839.24" y="309.41"/><use href="#k" x="851.11" y="308.57"/><use href="#k" x="862.98" y="309.07"/><use href="#k" x="874.85" y="306.56"/><use href="#k" x="886.72" y="305.55"/><use href="#k" x="898.6" y="303.46"/><use href="#k" x="910.47" y="308.4"/><use href="#k" x="922.34" y="305.55"/><use href="#k" x="934.21" y="302.87"/><use href="#k" x="946.08" y="307.98"/><use href="#k" x="957.95" y="301.87"/></g>
<polyline points="673.05,301.87 684.92,291.98 696.79,287.03 708.66,286.45 720.53,284.77 732.4,289.46 744.27,292.65 756.15,291.98 768.02,295.66 779.89,295.66 791.76,293.65 803.63,293.15 815.5,294.66 827.37,295.25 839.24,292.65 851.11,292.65 862.98,290.54 874.85,289.46 886.72,290.13 898.6,288.46 910.47,292.65 922.34,292.65 934.21,294.22 946.08,295.25 957.95,297.68" fill="none" stroke="#0000ff" stroke-width="1.05" stroke-linejoin="round"/>
<g stroke="#0000ff"><use href="#k" x="673.05" y="301.87"/><use href="#k" x="684.92" y="291.98"/><use href="#k" x="696.79" y="287.03"/><use href="#k" x="708.66" y="286.45"/><use href="#k" x="720.53" y="284.77"/><use href="#k" x="732.4" y="289.46"/><use href="#k" x="744.27" y="292.65"/><use href="#k" x="756.15" y="291.98"/><use href="#k" x="768.02" y="295.66"/><use href="#k" x="779.89" y="295.66"/><use href="#k" x="791.76" y="293.65"/><use href="#k" x="803.63" y="293.15"/><use href="#k" x="815.5" y="294.66"/><use href="#k" x="827.37" y="295.25"/><use href="#k" x="839.24" y="292.65"/><use href="#k" x="851.11" y="292.65"/><use href="#k" x="862.98" y="290.54"/><use href="#k" x="874.85" y="289.46"/><use href="#k" x="886.72" y="290.13"/><use href="#k" x="898.6" y="288.46"/><use href="#k" x="910.47" y="292.65"/><use href="#k" x="922.34" y="292.65"/><use href="#k" x="934.21" y="294.22"/><use href="#k" x="946.08" y="295.25"/><use href="#k" x="957.95" y="297.68"/></g>
<polyline points="673.05,297.34 684.92,300.19 696.79,300.19 708.66,298.35 720.53,293.65 732.4,293.15 744.27,286.78 756.15,279.91 768.02,264.49 779.89,283.76 791.76,281.75 803.63,288.46 815.5,288.96 827.37,290.13 839.24,289.13 851.11,293.15 862.98,295.25 874.85,296.33 886.72,297.17 898.6,299.35 910.47,297.68 922.34,298.35 934.21,300.36 946.08,302.2 957.95,302.87" fill="none" stroke="#ff0000" stroke-width="1.05" stroke-linejoin="round"/>
<g stroke="#ff0000"><use href="#k" x="673.05" y="297.34"/><use href="#k" x="684.92" y="300.19"/><use href="#k" x="696.79" y="300.19"/><use href="#k" x="708.66" y="298.35"/><use href="#k" x="720.53" y="293.65"/><use href="#k" x="732.4" y="293.15"/><use href="#k" x="744.27" y="286.78"/><use href="#k" x="756.15" y="279.91"/><use href="#k" x="768.02" y="264.49"/><use href="#k" x="779.89" y="283.76"/><use href="#k" x="791.76" y="281.75"/><use href="#k" x="803.63" y="288.46"/><use href="#k" x="815.5" y="288.96"/><use href="#k" x="827.37" y="290.13"/><use href="#k" x="839.24" y="289.13"/><use href="#k" x="851.11" y="293.15"/><use href="#k" x="862.98" y="295.25"/><use href="#k" x="874.85" y="296.33"/><use href="#k" x="886.72" y="297.17"/><use href="#k" x="898.6" y="299.35"/><use href="#k" x="910.47" y="297.68"/><use href="#k" x="922.34" y="298.35"/><use href="#k" x="934.21" y="300.36"/><use href="#k" x="946.08" y="302.2"/><use href="#k" x="957.95" y="302.87"/></g>
</g>
<path d="M673.05 309.24H957.95M673.05 292.48H957.95M673.05 275.72H957.95M673.05 258.96H957.95M720.53 242.2V326M768.02 242.2V326M815.5 242.2V326M862.98 242.2V326M910.47 242.2V326" fill="none" stroke="#000" stroke-width="1.3" stroke-dasharray="1.3 1.84"/>
<path d="M673.05 309.24h5.5M957.95 309.24h-5.5M673.05 292.48h5.5M957.95 292.48h-5.5M673.05 275.72h5.5M957.95 275.72h-5.5M673.05 258.96h5.5M957.95 258.96h-5.5" fill="none" stroke="#000" stroke-width="1.15"/>
<path d="M720.53 242.2v6.5M720.53 326v-6.5M768.02 242.2v6.5M768.02 326v-6.5M815.5 242.2v6.5M815.5 326v-6.5M862.98 242.2v6.5M862.98 326v-6.5M910.47 242.2v6.5M910.47 326v-6.5" fill="none" stroke="#000" stroke-width="1.1"/>
<text class="l" text-anchor="end" transform="translate(668.35 328.75) scale(1.04 1)">0.2</text><text class="l" text-anchor="end" transform="translate(668.35 311.99) scale(1.04 1)">0.3</text><text class="l" text-anchor="end" transform="translate(668.35 295.23) scale(1.04 1)">0.4</text><text class="l" text-anchor="end" transform="translate(668.35 278.47) scale(1.04 1)">0.5</text><text class="l" text-anchor="end" transform="translate(668.35 261.71) scale(1.04 1)">0.6</text><text class="l" text-anchor="end" transform="translate(668.35 244.95) scale(1.04 1)">0.7</text>
<text class="l" text-anchor="middle" transform="translate(673.05 337.35) scale(1.04 1)">0</text><text class="l" text-anchor="middle" transform="translate(720.53 337.35) scale(1.04 1)">4</text><text class="l" text-anchor="middle" transform="translate(768.02 337.35) scale(1.04 1)">8</text><text class="l" text-anchor="middle" transform="translate(815.5 337.35) scale(1.04 1)">12</text><text class="l" text-anchor="middle" transform="translate(862.98 337.35) scale(1.04 1)">16</text><text class="l" text-anchor="middle" transform="translate(910.47 337.35) scale(1.04 1)">20</text><text class="l" text-anchor="middle" transform="translate(957.95 337.35) scale(1.04 1)">24</text>
<text class="t" x="918.85" y="238.7" textLength="40.2" lengthAdjust="spacingAndGlyphs">CO (ppm)</text>
</g>
</svg>
</body></html>
